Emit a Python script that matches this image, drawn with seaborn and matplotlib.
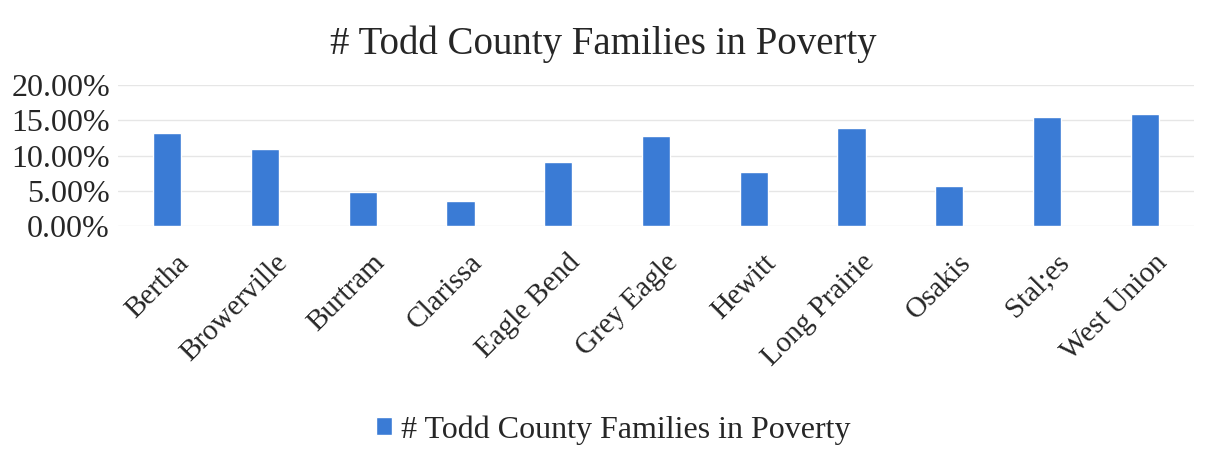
import matplotlib
matplotlib.use("Agg")
import matplotlib.pyplot as plt
import matplotlib.transforms as mtransforms
import seaborn as sns
import pandas as pd
from matplotlib.ticker import PercentFormatter

# Data
towns = ['Bertha', 'Browerville', 'Burtram', 'Clarissa', 'Eagle Bend', 'Grey Eagle',
         'Hewitt', 'Long Prairie', 'Osakis', 'Stal;es', 'West Union']
poverty = [0.1315, 0.109, 0.049, 0.0355, 0.091, 0.128,
           0.077, 0.1385, 0.057, 0.155, 0.159]
series_name = '# Todd County Families in Poverty'


def main():
    sns.set_theme(style="white")
    plt.rcParams['font.family'] = ['Liberation Serif', 'DejaVu Serif']

    df = pd.DataFrame({'Town': towns, 'Share': poverty})

    fig = plt.figure(figsize=(12.07, 4.55), dpi=100)
    ax = fig.add_axes([0.098, 0.503, 0.891, 0.310])

    sns.barplot(data=df, x='Town', y='Share', color='#3A7BD5', width=0.29,
                saturation=1, ax=ax, label=series_name)

    ax.set_ylim(0, 0.2)
    ax.set_yticks([0, 0.05, 0.10, 0.15, 0.20])
    ax.yaxis.set_major_formatter(PercentFormatter(xmax=1, decimals=2))
    ax.grid(axis='y', color='#e6e6e6', linewidth=1)
    ax.set_axisbelow(True)
    for s in ax.spines.values():
        s.set_visible(False)
    ax.tick_params(axis='y', length=0, labelsize=23, colors='#262626', pad=6)
    ax.tick_params(axis='x', length=0, labelsize=21, colors='#262626', pad=4)

    # shift the rotated labels a little right and down, like the original
    offset = mtransforms.ScaledTranslation(0.09, -0.18, fig.dpi_scale_trans)
    for lbl in ax.get_xticklabels():
        lbl.set_rotation(45)
        lbl.set_ha('right')
        lbl.set_rotation_mode('anchor')
        lbl.set_transform(lbl.get_transform() + offset)
    ax.set_xlabel('')
    ax.set_ylabel('')

    fig.suptitle(series_name, y=0.945, fontsize=28, color='#262626')

    handles, labels = ax.get_legend_handles_labels()
    ax.legend(handles, labels, loc='center', bbox_to_anchor=(0.508, 0.055),
              bbox_transform=fig.transFigure, frameon=False, fontsize=23,
              handlelength=0.5, handleheight=0.5, handletextpad=0.3,
              labelcolor='#262626')

    fig.savefig('out.png', dpi=100)


if __name__ == "__main__":
    main()
